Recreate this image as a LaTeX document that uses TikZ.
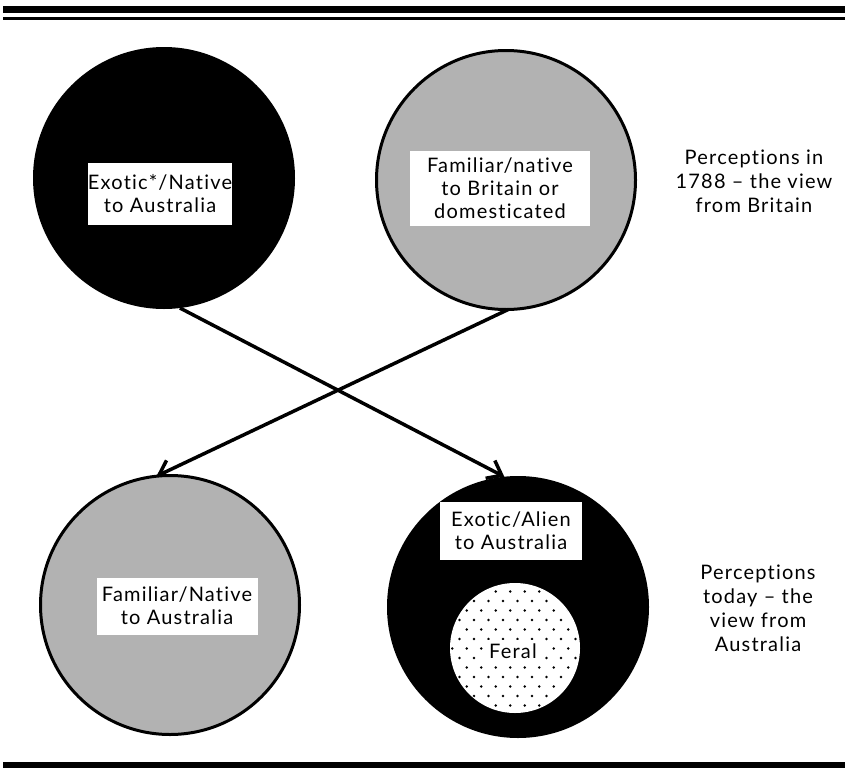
\documentclass[tikz,border=0pt]{standalone}
\usepackage{fontspec}
\setmainfont{Lato}[LetterSpace=6,Ligatures={NoCommon,NoContextual}]
\usetikzlibrary{arrows.meta,backgrounds}
\definecolor{speckle}{gray}{0.70}
\begin{document}
\begin{tikzpicture}[x=1pt,y=-1pt,
  blackdisc/.style={circle,fill=black,minimum size=262pt,inner sep=0pt,outer sep=0pt},
  greydisc/.style={circle,fill=speckle,draw=black,line width=3pt,minimum size=259pt,inner sep=0pt,outer sep=0pt},
  labelbox/.style={fill=white,align=center,inner sep=0pt,font=\fontsize{20}{23}\selectfont},
  caption/.style={align=center,font=\fontsize{20}{24}\selectfont},
  link/.style={line width=3.5pt,-{Straight Barb[length=13pt,width=20pt,line width=3.5pt]}},
  rulebar/.style={fill=black}
]
\useasboundingbox (0,0) rectangle (849,771);
% rules
\fill[rulebar] (3,6) rectangle (845,13);
\fill[rulebar] (3,17) rectangle (845,20);
\fill[rulebar] (3,762) rectangle (845,768);

% circles
\node[blackdisc] (c1) at (164,178) {};
\node[greydisc]  (c2) at (506,180) {};
\node[greydisc]  (c3) at (170,605) {};
\node[blackdisc] (c4) at (518,607) {};

% feral inner circle
\node[circle,fill=white,minimum size=130pt,inner sep=0pt,outer sep=0pt] (feralc) at (515,648) {};
\begin{scope}
  \clip (515,648) circle[radius=64];
  \foreach \r in {0,...,14} {
    \foreach \c in {0,...,10} {
      \fill ({445+\c*14.5+mod(\r,2)*7.25},{582+\r*9.5}) circle[radius=1.4];
    }
  }
\end{scope}
\node[fill=white,inner sep=4pt,font=\fontsize{20}{23}\selectfont] (feral) at (513,651) {Feral};

% label boxes
\node[labelbox,minimum width=144pt,minimum height=62pt] (l1) at (160,194) {Exotic*/Native\\to Australia};
\node[labelbox,minimum width=180pt,minimum height=75pt] (l2) at (500,188) {Familiar/native\\to Britain or\\domesticated};
\node[labelbox,minimum width=161pt,minimum height=57pt] (l3) at (177,606) {Familiar/Native\\to Australia};
\node[labelbox,minimum width=142pt,minimum height=58pt] (l4) at (511,531) {Exotic/Alien\\to Australia};

% captions
\node[caption] (t1) at (754,181) {Perceptions in\\1788 -- the view\\from Britain};
\node[caption] (t2) at (758,608) {Perceptions\\today -- the\\view from\\Australia};

% connectors
\begin{scope}[on background layer]
  \draw[link] (c1.-83) -- (c4.96);
  \draw[link] (c2.-89) -- (c3.96);
\end{scope}
\end{tikzpicture}
\end{document}
